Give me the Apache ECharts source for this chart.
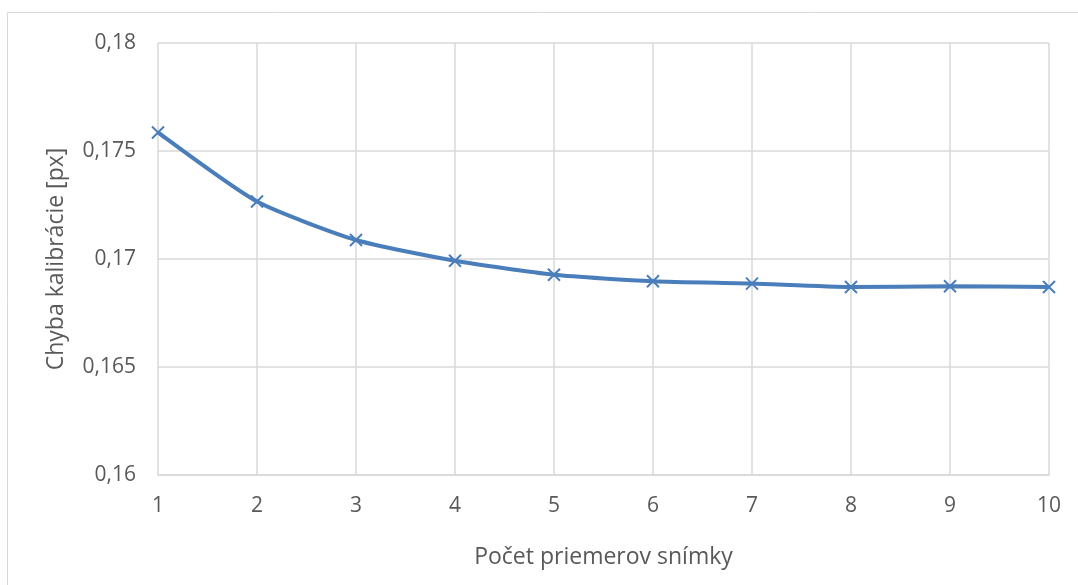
<!DOCTYPE html>
<html>
<head>
<meta charset="utf-8">
<script src="https://cdn.jsdelivr.net/npm/echarts@6/dist/echarts.min.js"></script>
<style>
  html, body { margin: 0; padding: 0; background: #fff; }
  #chart { width: 1078px; height: 585px; }
</style>
</head>
<body>
<div id="chart"></div>
<script>
// pocet snimok (x) a chyba kalibracie (y)
const categories = ['1', '2', '3', '4', '5', '6', '7', '8', '9', '10'];
const chyba = [0.17586, 0.17266, 0.17088, 0.16992, 0.16927, 0.16897, 0.16886, 0.16870, 0.16874, 0.16870];
const yTicks = [0.16, 0.165, 0.17, 0.175, 0.18];

const font = 'Open Sans';

const chart = echarts.init(document.getElementById('chart'));
chart.setOption({
  animation: false,
  backgroundColor: '#fff',
  graphic: [{
    type: 'rect',
    shape: { x: 7.5, y: 12.5, width: 1100, height: 600 },
    style: { fill: 'none', stroke: '#d9d9d9', lineWidth: 1 },
    silent: true
  }],
  grid: { left: 158, right: 29, top: 43, bottom: 110 },
  xAxis: {
    type: 'category',
    boundaryGap: false,
    data: categories,
    name: 'Počet priemerov snímky',
    nameLocation: 'middle',
    nameGap: 71,
    nameTextStyle: { color: '#595959', fontSize: 23, fontFamily: font },
    axisLine: { lineStyle: { color: '#d9d9d9', width: 1.5 } },
    axisTick: { show: false },
    axisLabel: { color: '#595959', fontSize: 21, fontFamily: font, margin: 21 },
    splitLine: { show: true, lineStyle: { color: '#d9d9d9', width: 1.5 } }
  },
  yAxis: {
    type: 'value',
    min: yTicks[0],
    max: yTicks[yTicks.length - 1],
    interval: 0.005,
    name: 'Chyba kalibrácie [px]',
    nameLocation: 'middle',
    nameGap: 90,
    nameTextStyle: { color: '#595959', fontSize: 23, fontFamily: font },
    axisLine: { show: false },
    axisTick: { show: false },
    axisLabel: {
      color: '#595959', fontSize: 21, fontFamily: font, margin: 22,
      formatter: v => String(+v.toFixed(3)).replace('.', ',')
    },
    splitLine: { lineStyle: { color: '#d9d9d9', width: 1.5 } }
  },
  series: [{
    type: 'line',
    data: chyba,
    smooth: 0.2,
    symbol: 'path://M0,0 L10,10 M10,0 L0,10',
    symbolSize: 12,
    showSymbol: true,
    lineStyle: { color: '#4a7ebb', width: 4 },
    itemStyle: { color: '#4a7ebb', borderColor: '#4a7ebb', borderWidth: 2 }
  }]
});
</script>
</body>
</html>
